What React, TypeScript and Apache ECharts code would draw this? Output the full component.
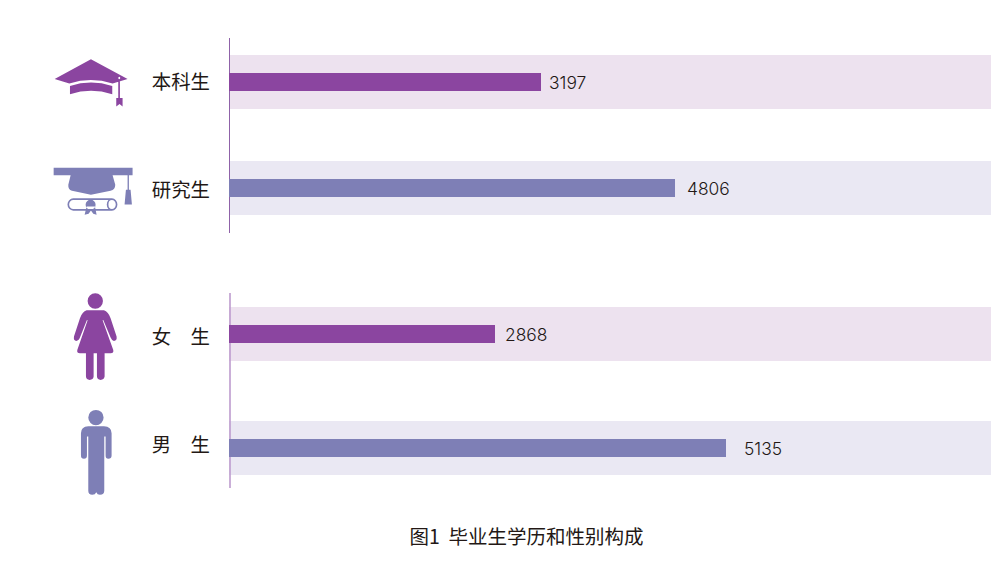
import React, { useEffect, useRef } from "react";
import * as echarts from "echarts";

const categories = ["本科生", "研究生", "女　生", "男　生"];
const values = [3197, 4806, 2868, 5135];
// The source picture scales each bar a little differently: one axis extent per bar.
const axisMax = [7808, 8211, 8216, 7873];
const chartTitle = "图1  毕业生学历和性别构成";

const gridCenters = [82, 188, 334, 448];
const labelGaps = [8, 12, 10, 18];
const labelAlign = ["bottom", "middle", "top", "bottom"];
const labelLineHeight = [4, 20, 2, 9];
const barColors = ["#8b45a0", "#7e7fb6", "#8b45a0", "#7e7fb6"];
const bandColors = ["#ede2ef", "#eae8f3", "#ede2ef", "#eae8f3"];
const TEXT = "#231815";
const CJK = '"Noto Sans CJK SC", sans-serif';

const circle = (cx: number, cy: number, r: number) =>
  `M${cx - r} ${cy}a${r} ${r} 0 1 0 ${2 * r} 0a${r} ${r} 0 1 0 ${-2 * r} 0Z`;

const ICONS: Record<string, string> = {
  capBachelor:
    "M44 147L153 88L263 147L218 161Q153 140 88 161Z" +
    "M90 168Q153 147 217 168L217 193Q153 172 90 193Z" +
    "M235 146L240 146L240 204L248 204L248 230L239 222L229 230L229 204L235 204Z",
  capMaster:
    "M41 414L278 414L278 436L41 436Z" +
    "M92 436L218 436L226 465Q226 480 212 483L153 495L96 483Q84 480 85 465Z" +
    "M263 436L267 436L267 480L272 480L276 524L254 524L258 480L263 480Z" +
    circle(152, 525, 15) +
    "M140 530L165 530L170 555L160 552L153 542L146 552L134 555Z",
  scroll:
    "M100 508L216 508A14 16 0 0 1 216 540L100 540A15 16 0 0 1 100 508ZM216 508A13 16 0 0 0 216 540",
  female:
    circle(166, 48, 23) +
    "M140 76L192 76Q205 80 212 100L230 155Q232 168 222 168Q216 168 212 158L190 105L188 106L220 195Q222 205 212 205L194 205L194 275Q192 285 182 285Q172 285 171 275L171 205L161 205L161 275Q160 285 149 285Q139 285 138 275L138 205L120 205Q110 205 112 195L143 106L141 105L120 158Q116 168 109 168Q100 168 102 155L120 100Q127 80 140 76Z",
  male:
    circle(168, 398, 23) +
    "M145 424L192 424Q215 425 215 445L215 512Q215 522 205 522Q197 522 197 512L197 455L193 455L193 618Q193 630 180 630Q172 630 169 622Q166 630 157 630Q145 630 145 618L145 455L141 455L141 512Q141 522 132 522Q123 522 123 512L123 445Q123 425 145 424Z",
};

Object.keys(ICONS).forEach((k) => {
  echarts.graphic.registerShape(k, echarts.graphic.extendPath(ICONS[k], {}));
});

const icon = (type: string, y: number, style: any) => ({
  type,
  x: 40,
  y,
  scaleX: 1 / 3,
  scaleY: 1 / 3,
  silent: true,
  style,
});

export default function App() {
  const ref = useRef<HTMLDivElement>(null);
  useEffect(() => {
    document.body.style.margin = "0";
    const chart = echarts.init(ref.current!, undefined, { renderer: "svg" });
    const idx = categories.map((_, i) => i);
    chart.setOption({
      animation: false,
      backgroundColor: "#ffffff",
      title: {
        text: chartTitle,
        left: 521.5,
        top: 521,
        textAlign: "center",
        textStyle: { fontFamily: CJK, fontSize: 19.5, fontWeight: "normal", color: TEXT },
      },
      grid: idx.map((i) => ({ left: 229, width: 762, top: gridCenters[i] - 44, height: 88 })),
      xAxis: idx.map((i) => ({
        type: "value",
        gridIndex: i,
        min: 0,
        max: axisMax[i],
        show: false,
        splitLine: { show: false },
      })),
      yAxis: [
        ...idx.map((i) => ({
          type: "category",
          gridIndex: i,
          data: [categories[i]],
          axisLine: { show: false },
          axisTick: { show: false },
          axisLabel: {
            margin: 19,
            fontFamily: CJK,
            fontSize: 19.4,
            color: TEXT,
            verticalAlign: labelAlign[i],
            lineHeight: labelLineHeight[i],
          },
        })),
        // hidden companion axes, so that the wide bands get a bar layout of their own
        ...idx.map((i) => ({
          type: "category",
          gridIndex: i,
          data: [categories[i]],
          show: false,
        })),
      ],
      series: idx.flatMap((i) => [
        {
          type: "bar",
          xAxisIndex: i,
          yAxisIndex: i + 4,
          data: [axisMax[i]],
          barWidth: 54,
          silent: true,
          z: 0,
          itemStyle: { color: bandColors[i] },
        },
        {
          type: "bar",
          xAxisIndex: i,
          yAxisIndex: i,
          data: [values[i]],
          barWidth: 18,
          silent: true,
          z: 3,
          itemStyle: { color: barColors[i] },
          label: {
            show: true,
            position: "right",
            distance: labelGaps[i],
            fontFamily: "Inter, sans-serif",
            fontSize: 17.4,
            fontWeight: 300,
            color: TEXT,
          },
        },
      ]),
      graphic: [
        {
          type: "line",
          z: 1,
          silent: true,
          shape: { x1: 229.5, y1: 38, x2: 229.5, y2: 233 },
          style: { stroke: "#8f62a8", lineWidth: 1 },
        },
        {
          type: "line",
          z: 1,
          silent: true,
          shape: { x1: 230, y1: 293, x2: 230, y2: 488 },
          style: { stroke: "#bd9bce", lineWidth: 1.6 },
        },
        icon("capBachelor", 30, { fill: "#8b45a0" }),
        {
          type: "circle",
          silent: true,
          shape: { cx: 119.2, cy: 78, r: 1 },
          style: { fill: "#ffffff" },
        },
        icon("scroll", 30, { fill: "#ffffff", stroke: "#7e7fb6", lineWidth: 5 }),
        icon("capMaster", 30, { fill: "#7e7fb6" }),
        icon("female", 285, { fill: "#8b45a0" }),
        icon("male", 285, { fill: "#7e7fb6" }),
      ],
    });
    return () => chart.dispose();
  }, []);
  return <div ref={ref} style={{ position: "absolute", left: 0, top: 0, width: 1001, height: 579 }} />;
}
